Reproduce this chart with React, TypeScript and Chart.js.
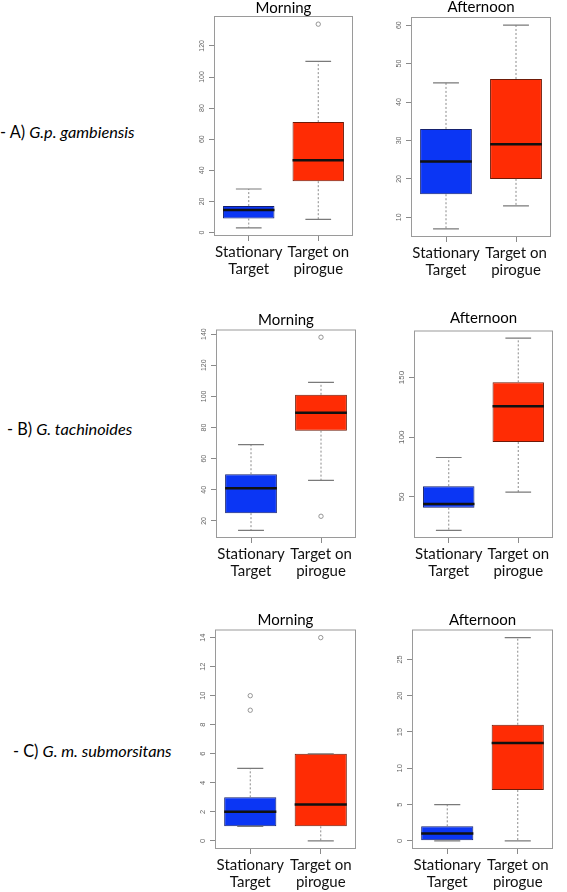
import React, { useEffect, useRef } from "react";
import { Chart, registerables } from "chart.js";

Chart.register(...registerables);

// ---- data ----
const categories = [["Stationary", "Target"], ["Target on", "pirogue"]];
const boxColors = ["#0b36f4", "#ff2c04"];
const boxBorders = ["#14206e", "#6e1a08"];

// [lower whisker, Q1, median, Q3, upper whisker]
const aMorningStationary = [3, 9, 14.5, 17, 28];
const aMorningPirogue = [8.4, 33, 46.5, 71, 110];
const aMorningOutStationary: number[] = [];
const aMorningOutPirogue = [134];
const aMorningTicks = [0, 20, 40, 60, 80, 100, 120];

const aAfternoonStationary = [7, 16, 24.5, 33, 45];
const aAfternoonPirogue = [13, 20, 29, 46, 60];
const aAfternoonOutStationary: number[] = [];
const aAfternoonOutPirogue: number[] = [];
const aAfternoonTicks = [10, 20, 30, 40, 50, 60];

const bMorningStationary = [14, 25, 41, 50, 69];
const bMorningPirogue = [46, 78, 89.5, 101, 109];
const bMorningOutStationary: number[] = [];
const bMorningOutPirogue = [138, 23];
const bMorningTicks = [20, 40, 60, 80, 100, 120, 140];

const bAfternoonStationary = [22, 41, 44, 59, 83];
const bAfternoonPirogue = [54, 96, 126, 146, 183];
const bAfternoonOutStationary: number[] = [];
const bAfternoonOutPirogue: number[] = [];
const bAfternoonTicks = [50, 100, 150];

const cMorningStationary = [1, 1, 2, 3, 5];
const cMorningPirogue = [0, 1, 2.5, 6, 6];
const cMorningOutStationary = [9, 10];
const cMorningOutPirogue = [14];
const cMorningTicks = [0, 2, 4, 6, 8, 10, 12, 14];

const cAfternoonStationary = [0, 0, 1, 2, 5];
const cAfternoonPirogue = [0, 7, 13.5, 16, 28];
const cAfternoonOutStationary: number[] = [];
const cAfternoonOutPirogue: number[] = [];
const cAfternoonTicks = [0, 5, 10, 15, 20, 25];

// ---- layout ----
const YW = 30;
const XH = 50;
const RP = 6;

type Panel = {
  title: string;
  stats: number[][];
  outliers: number[][];
  ticks: number[];
  frame: { l: number; r: number; t: number; b: number };
  pb: number;
  tickSize: number;
};

const panels: Panel[] = [
  { title: "Morning", stats: [aMorningStationary, aMorningPirogue], outliers: [aMorningOutStationary, aMorningOutPirogue], ticks: aMorningTicks, frame: { l: 214, r: 353, t: 16, b: 236 }, pb: 0, tickSize: 7 },
  { title: "Afternoon", stats: [aAfternoonStationary, aAfternoonPirogue], outliers: [aAfternoonOutStationary, aAfternoonOutPirogue], ticks: aAfternoonTicks, frame: { l: 411, r: 551, t: 17, b: 237 }, pb: 2, tickSize: 7 },
  { title: "Morning", stats: [bMorningStationary, bMorningPirogue], outliers: [bMorningOutStationary, bMorningOutPirogue], ticks: bMorningTicks, frame: { l: 216, r: 356, t: 329, b: 538 }, pb: 1.5, tickSize: 7 },
  { title: "Afternoon", stats: [bAfternoonStationary, bAfternoonPirogue], outliers: [bAfternoonOutStationary, bAfternoonOutPirogue], ticks: bAfternoonTicks, frame: { l: 414, r: 553, t: 330, b: 538 }, pb: 4.5, tickSize: 8 },
  { title: "Morning", stats: [cMorningStationary, cMorningPirogue], outliers: [cMorningOutStationary, cMorningOutPirogue], ticks: cMorningTicks, frame: { l: 215, r: 356, t: 629, b: 849 }, pb: 1.5, tickSize: 7.5 },
  { title: "Afternoon", stats: [cAfternoonStationary, cAfternoonPirogue], outliers: [cAfternoonOutStationary, cAfternoonOutPirogue], ticks: cAfternoonTicks, frame: { l: 412, r: 553, t: 629, b: 849 }, pb: 1.5, tickSize: 7.5 },
];

const rowLabels = [
  { prefix: "- A) ", species: "G.p. gambiensis", left: 0, cy: 132 },
  { prefix: "- B) ", species: "G. tachinoides", left: 7, cy: 429 },
  { prefix: "- C) ", species: "G. m. submorsitans", left: 13, cy: 751 },
];

function BoxPanel({ p }: { p: Panel }) {
  const ref = useRef<HTMLCanvasElement | null>(null);
  const TH = 15 + p.pb;
  const fw = p.frame.r - p.frame.l;
  const fh = p.frame.b - p.frame.t;
  const width = YW + fw + RP;
  const height = TH + fh + XH;

  useEffect(() => {
    if (!ref.current) return;
    const all: number[] = [];
    p.stats.forEach((s) => all.push(...s));
    p.outliers.forEach((o) => all.push(...o));
    const lo = Math.min(...all);
    const hi = Math.max(...all);
    const pad = (hi - lo) * 0.04;

    const boxPlugin = {
      id: "boxExtras",
      afterDatasetsDraw(chart: any) {
        const ctx = chart.ctx;
        const y = chart.scales.y;
        const meta = chart.getDatasetMeta(0);
        const ca = chart.chartArea;
        ctx.save();
        p.stats.forEach((s, i) => {
          const bar = meta.data[i];
          const cx = bar.x;
          const w = bar.width;
          const [low, q1, med, q3, high] = s;
          // whiskers
          ctx.strokeStyle = "#8a8a8a";
          ctx.lineWidth = 1;
          ctx.setLineDash([2, 2]);
          ctx.beginPath();
          ctx.moveTo(cx, y.getPixelForValue(q3));
          ctx.lineTo(cx, y.getPixelForValue(high));
          ctx.moveTo(cx, y.getPixelForValue(q1));
          ctx.lineTo(cx, y.getPixelForValue(low));
          ctx.stroke();
          ctx.setLineDash([]);
          // caps
          ctx.strokeStyle = "#7a7a7a";
          ctx.lineWidth = 1.2;
          ctx.beginPath();
          ctx.moveTo(cx - w / 4, y.getPixelForValue(high));
          ctx.lineTo(cx + w / 4, y.getPixelForValue(high));
          ctx.moveTo(cx - w / 4, y.getPixelForValue(low));
          ctx.lineTo(cx + w / 4, y.getPixelForValue(low));
          ctx.stroke();
          // median
          ctx.strokeStyle = "#111";
          ctx.lineWidth = 2.5;
          ctx.beginPath();
          ctx.moveTo(cx - w / 2, y.getPixelForValue(med));
          ctx.lineTo(cx + w / 2, y.getPixelForValue(med));
          ctx.stroke();
          // outliers
          ctx.strokeStyle = "#8a8a8a";
          ctx.lineWidth = 0.9;
          p.outliers[i].forEach((v) => {
            ctx.beginPath();
            ctx.arc(cx, y.getPixelForValue(v), 2.2, 0, Math.PI * 2);
            ctx.stroke();
          });
        });
        // frame
        ctx.strokeStyle = "#9a9a9a";
        ctx.lineWidth = 1;
        ctx.strokeRect(ca.left + 0.5, ca.top + 0.5, ca.right - ca.left - 1, ca.bottom - ca.top - 1);
        // y tick labels (rotated like R)
        ctx.fillStyle = "#666";
        ctx.font = `${p.tickSize}px "Liberation Sans", Arial, sans-serif`;
        ctx.textAlign = "center";
        ctx.textBaseline = "middle";
        y.ticks.forEach((t: any) => {
          const py = y.getPixelForValue(t.value);
          ctx.save();
          ctx.translate(ca.left - 12, py);
          ctx.rotate(-Math.PI / 2);
          ctx.fillText(String(t.value), 0, 0);
          ctx.restore();
        });
        ctx.restore();
      },
    };

    const chart = new Chart(ref.current, {
      type: "bar",
      data: {
        labels: categories as any,
        datasets: [
          {
            data: p.stats.map((s) => [s[1], s[3]]) as any,
            backgroundColor: boxColors,
            borderColor: boxBorders,
            borderWidth: 1,
            borderSkipped: false,
            categoryPercentage: 1,
            barPercentage: 0.74,
          },
        ],
      },
      options: {
        animation: false,
        responsive: false,
        maintainAspectRatio: false,
        layout: { padding: { left: 0, right: RP, top: 0, bottom: 0 } },
        plugins: {
          legend: { display: false },
          tooltip: { enabled: false },
          title: {
            display: true,
            text: p.title,
            fullSize: false,
            color: "#000",
            font: { family: "Lato", size: 15, weight: "normal", lineHeight: 1 },
            padding: { top: 0, bottom: p.pb },
          },
        },
        scales: {
          x: {
            type: "category",
            offset: true,
            grid: { display: true, drawOnChartArea: false, drawTicks: true, tickLength: 5, color: "#8a8a8a", offset: false },
            border: { display: false },
            ticks: {
              color: "#111",
              font: { family: "Lato", size: 15, lineHeight: 1.13 },
              padding: 3,
              maxRotation: 0,
              minRotation: 0,
              autoSkip: false,
            },
            afterFit: (s: any) => {
              s.height = XH;
            },
          },
          y: {
            type: "linear",
            min: lo - pad,
            max: hi + pad,
            grid: { display: true, drawOnChartArea: false, drawTicks: true, tickLength: 5, color: "#8a8a8a" },
            border: { display: false },
            ticks: { display: false },
            afterBuildTicks: (s: any) => {
              s.ticks = p.ticks.map((v) => ({ value: v }));
            },
            afterFit: (s: any) => {
              s.width = YW;
            },
          },
        },
      },
      plugins: [boxPlugin],
    } as any);
    return () => chart.destroy();
  }, [p]);

  return (
    <canvas
      ref={ref}
      width={width}
      height={height}
      style={{
        position: "absolute",
        left: p.frame.l - YW,
        top: p.frame.t - TH,
        width,
        height,
      }}
    />
  );
}

export default function App() {
  return (
    <div
      style={{
        position: "absolute",
        left: 0,
        top: 0,
        width: 567,
        height: 892,
        background: "#fff",
        overflow: "hidden",
      }}
    >
      {rowLabels.map((r, i) => (
        <div
          key={i}
          style={{
            position: "absolute",
            left: r.left,
            top: r.cy - 10,
            height: 20,
            lineHeight: "20px",
            fontFamily: "Lato, sans-serif",
            fontSize: 16.3,
            color: "#000",
            whiteSpace: "nowrap",
          }}
        >
          {r.prefix}
          <i>{r.species}</i>
        </div>
      ))}
      {panels.map((p, i) => (
        <BoxPanel key={i} p={p} />
      ))}
    </div>
  );
}
